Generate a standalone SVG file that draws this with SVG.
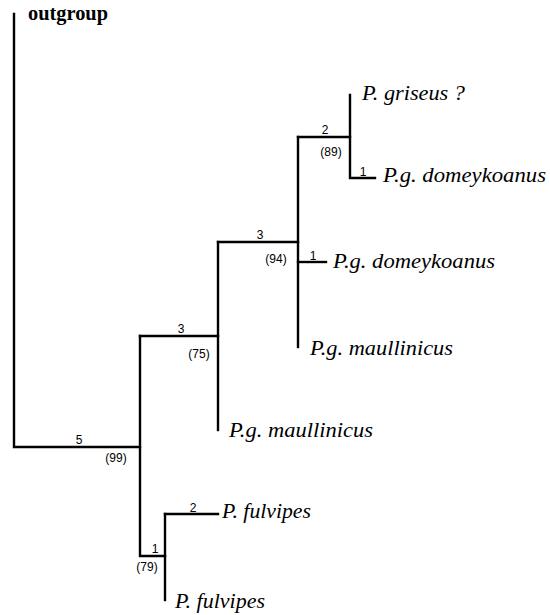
<svg xmlns="http://www.w3.org/2000/svg" width="550" height="615" viewBox="0 0 550 615">
<style>
.br{fill:none;stroke:#000;stroke-width:2.4;stroke-linecap:square}
.tx{font-family:"Liberation Serif",serif;font-style:italic;font-size:21px;fill:#000}
.og{font-family:"Liberation Serif",serif;font-size:20px;font-weight:bold;fill:#000}
.n{font-family:"Liberation Sans",Arial,sans-serif;font-size:12px;fill:#000}
.m{text-anchor:middle}
</style>
<rect width="550" height="615" fill="#fff"/>
<g id="connectors">
<path class="br" d="M14,14 V447 H140"/>
<path class="br" d="M140,336 V556 H165"/>
<path class="br" d="M140,336 H218"/>
<path class="br" d="M218,242 V430"/>
<path class="br" d="M218,242 H298"/>
<path class="br" d="M298,137 V347"/>
<path class="br" d="M298,137 H350"/>
<path class="br" d="M350,95 V178 H375"/>
<path class="br" d="M298,262 H326"/>
<path class="br" d="M165,514 V600"/>
<path class="br" d="M165,514 H218"/>
</g>
<g id="labels-branch">
<text class="n m" x="79" y="444">5</text>
<text class="n m" x="116" y="462">(99)</text>
<text class="n m" x="181" y="333">3</text>
<text class="n m" x="199" y="358">(75)</text>
<text class="n m" x="260" y="239">3</text>
<text class="n m" x="276" y="263">(94)</text>
<text class="n m" x="313" y="260">1</text>
<text class="n m" x="325" y="134">2</text>
<text class="n m" x="331" y="156">(89)</text>
<text class="n m" x="363" y="176">1</text>
<text class="n m" x="155" y="553">1</text>
<text class="n m" x="147" y="571">(79)</text>
<text class="n m" x="193" y="512">2</text>
</g>
<g id="outgroup"><text class="og" x="28" y="20" textLength="80" lengthAdjust="spacingAndGlyphs">outgroup</text></g>
<g id="griseus"><text class="tx" x="362" y="100" textLength="103" lengthAdjust="spacingAndGlyphs">P. griseus ?</text></g>
<g id="domeykoanus1"><text class="tx" x="383" y="182" textLength="163" lengthAdjust="spacingAndGlyphs">P.g. domeykoanus</text></g>
<g id="domeykoanus2"><text class="tx" x="333" y="268" textLength="162" lengthAdjust="spacingAndGlyphs">P.g. domeykoanus</text></g>
<g id="maullinicus1"><text class="tx" x="310" y="355" textLength="143" lengthAdjust="spacingAndGlyphs">P.g. maullinicus</text></g>
<g id="maullinicus2"><text class="tx" x="229" y="437" textLength="144" lengthAdjust="spacingAndGlyphs">P.g. maullinicus</text></g>
<g id="fulvipes1"><text class="tx" x="222" y="518" textLength="89" lengthAdjust="spacingAndGlyphs">P. fulvipes</text></g>
<g id="fulvipes2"><text class="tx" x="175" y="608" textLength="90" lengthAdjust="spacingAndGlyphs">P. fulvipes</text></g>
</svg>
